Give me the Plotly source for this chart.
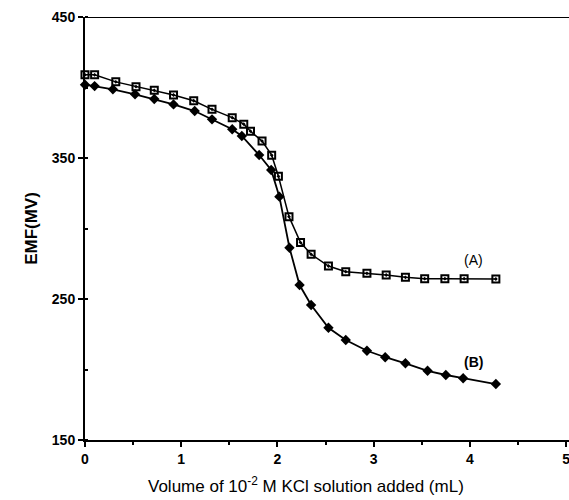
import plotly.graph_objects as go

# Series A (open squares)
a_x = [0, 0.10, 0.32, 0.53, 0.72, 0.92, 1.13, 1.32, 1.53, 1.65, 1.72, 1.84, 1.94, 2.01,
       2.12, 2.24, 2.35, 2.53, 2.71, 2.93, 3.13, 3.33, 3.53, 3.74, 3.94, 4.27]
a_y = [409, 409, 404, 400.6, 398, 394.7, 390.6, 384.5, 378.6, 374, 369, 362, 352, 337,
       308.4, 290, 281.7, 273.4, 269.4, 268.2, 267, 265.4, 264.4, 264.4, 264.4, 264.2]

# Series B (filled diamonds)
b_x = [0, 0.10, 0.29, 0.52, 0.72, 0.92, 1.14, 1.32, 1.53, 1.63, 1.81, 1.935, 2.02,
       2.125, 2.23, 2.35, 2.53, 2.71, 2.93, 3.12, 3.33, 3.56, 3.75, 3.93, 4.27]
b_y = [402, 401, 398.7, 395.2, 391.8, 388, 383.3, 377.4, 370.4, 365.6, 352.1, 341.5, 322.6,
       286.4, 259.9, 245.7, 229.6, 220.9, 213.3, 208.7, 204.4, 199.1, 196.1, 193.8, 189.7]

x_ticks = [0, 1, 2, 3, 4, 5]
y_ticks = [150, 250, 350, 450]

FONT = "Liberation Sans, Arial, sans-serif"
X_MAX = 5.03

fig = go.Figure()
fig.add_trace(go.Scatter(
    x=b_x, y=b_y, mode="lines+markers",
    line=dict(color="black", width=1.8),
    marker=dict(symbol="diamond", size=8, color="black"),
    showlegend=False, cliponaxis=False))
fig.add_trace(go.Scatter(
    x=a_x, y=a_y, mode="lines+markers",
    line=dict(color="black", width=1.5),
    marker=dict(symbol="square-open-dot", size=7, color="black",
                line=dict(width=2, color="black")),
    showlegend=False, cliponaxis=False))

fig.add_annotation(x=4.04, y=277.5, text="(A)", showarrow=False,
                   font=dict(family=FONT, size=14, color="black"))
fig.add_annotation(x=4.04, y=205, text="(B)", showarrow=False,
                   font=dict(family=FONT, size=14, color="black", weight="bold"))

# x-axis title
fig.add_annotation(xref="paper", yref="paper", x=(306 - 85) / 484, y=-0.106,
                   yanchor="middle", xanchor="center", showarrow=False,
                   text="Volume of 10<sup>-2</sup> M KCl solution added (mL)",
                   font=dict(family=FONT, size=17, color="black"))

# top frame line
fig.add_shape(type="line", xref="paper", yref="y", x0=0, x1=1, y0=450, y1=450,
              line=dict(color="black", width=2))

fig.update_xaxes(range=[0, X_MAX], tickvals=x_ticks, ticktext=[str(v) for v in x_ticks],
                 showline=True, linecolor="black", linewidth=2,
                 ticks="outside", ticklen=5, tickwidth=1.5, tickcolor="black",
                 minor=dict(dtick=0.5, ticks="outside", ticklen=3, tickcolor="black"),
                 showgrid=False, zeroline=False, ticklabeloverflow="allow",
                 tickfont=dict(family=FONT, size=14, color="black", weight="bold"))
fig.update_yaxes(range=[150, 450], tickvals=y_ticks, ticktext=[str(v) for v in y_ticks],
                 showline=True, linecolor="black", linewidth=2,
                 ticks="outside", ticklen=5, tickwidth=1.5, tickcolor="black",
                 minor=dict(dtick=50, ticks="inside", ticklen=3, tickcolor="black"),
                 showgrid=False, zeroline=False,
                 title=dict(text="EMF(MV)", standoff=10,
                            font=dict(family=FONT, size=17, color="black", weight="bold")),
                 tickfont=dict(family=FONT, size=14, color="black", weight="bold"))

fig.update_layout(width=569, height=500,
                  margin=dict(l=85, r=0, t=17, b=60),
                  plot_bgcolor="white", paper_bgcolor="white",
                  font=dict(family=FONT, color="black"))

fig.write_html("out.html")
